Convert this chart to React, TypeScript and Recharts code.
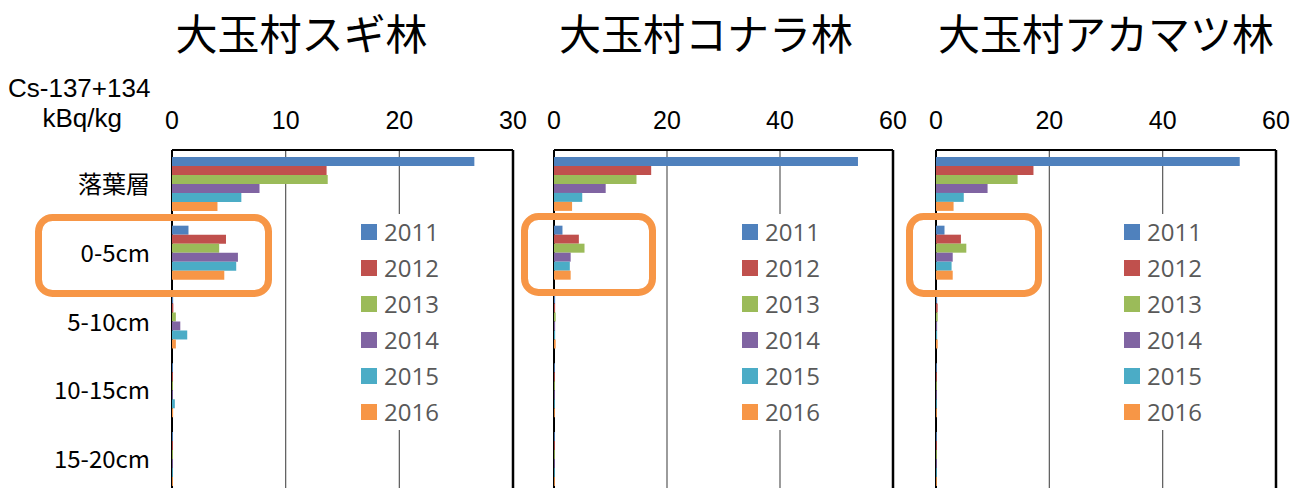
import React from 'react';
import { BarChart, Bar, XAxis, YAxis, CartesianGrid, ReferenceLine, Legend } from 'recharts';

const categories = ['落葉層', '0-5cm', '5-10cm', '10-15cm', '15-20cm'];
const years = ['2011', '2012', '2013', '2014', '2015', '2016'];
const yearColors = ['#4F81BD', '#C0504D', '#9BBB59', '#8064A2', '#4BACC6', '#F79646'];

// 大玉村スギ林
const sugi2011 = [26.6, 1.45, 0.1, 0.08, 0.08];
const sugi2012 = [13.6, 4.75, 0.12, 0.08, 0.08];
const sugi2013 = [13.7, 4.15, 0.34, 0.08, 0.08];
const sugi2014 = [7.7, 5.8, 0.73, 0.08, 0.08];
const sugi2015 = [6.1, 5.65, 1.34, 0.25, 0.08];
const sugi2016 = [4.0, 4.6, 0.34, 0.1, 0.08];

// 大玉村コナラ林
const konara2011 = [53.8, 1.5, 0.2, 0.15, 0.15];
const konara2012 = [17.2, 4.4, 0.2, 0.15, 0.15];
const konara2013 = [14.6, 5.4, 0.3, 0.15, 0.15];
const konara2014 = [9.15, 2.95, 0.2, 0.15, 0.15];
const konara2015 = [5.0, 2.8, 0.2, 0.15, 0.15];
const konara2016 = [3.2, 2.95, 0.3, 0.15, 0.15];

// 大玉村アカマツ林
const akamatsu2011 = [53.6, 1.5, 0.2, 0.15, 0.15];
const akamatsu2012 = [17.2, 4.4, 0.3, 0.15, 0.15];
const akamatsu2013 = [14.4, 5.35, 0.3, 0.15, 0.15];
const akamatsu2014 = [9.1, 2.95, 0.2, 0.15, 0.15];
const akamatsu2015 = [4.9, 2.75, 0.2, 0.15, 0.15];
const akamatsu2016 = [3.1, 2.95, 0.3, 0.15, 0.15];

const sugiTicks = [0, 10, 20, 30];
const konaraTicks = [0, 20, 40, 60];
const akamatsuTicks = [0, 20, 40, 60];

const titles = ['大玉村スギ林', '大玉村コナラ林', '大玉村アカマツ林'];

function buildData(series: number[][]) {
  return categories.map((layer, i) => {
    const row: Record<string, any> = { layer };
    years.forEach((y, k) => {
      row['y' + y] = series[k][i];
    });
    return row;
  });
}

const panels = [
  {
    data: buildData([sugi2011, sugi2012, sugi2013, sugi2014, sugi2015, sugi2016]),
    ticks: sugiTicks,
    left: 0, width: 540, ml: 0, mr: 27, showCats: true, legendLeft: 353,
  },
  {
    data: buildData([konara2011, konara2012, konara2013, konara2014, konara2015, konara2016]),
    ticks: konaraTicks,
    left: 540, width: 380, ml: 14, mr: 27, showCats: false, legendLeft: 194,
  },
  {
    data: buildData([akamatsu2011, akamatsu2012, akamatsu2013, akamatsu2014, akamatsu2015, akamatsu2016]),
    ticks: akamatsuTicks,
    left: 920, width: 385, ml: 16, mr: 29, showCats: false, legendLeft: 196,
  },
];

const LegendBox = (props: any) => {
  const payload = props.payload || [];
  return (
    <div style={{ background: '#fff', paddingLeft: 8, width: 92 }}>
      {payload.map((e: any) => (
        <div key={e.value} style={{ height: 36, display: 'flex', alignItems: 'center' }}>
          <span style={{ display: 'inline-block', width: 16, height: 16, background: e.color, marginRight: 7 }} />
          <span style={{ fontFamily: 'Open Sans', fontSize: 24, color: '#595959', lineHeight: '36px' }}>{e.value}</span>
        </div>
      ))}
    </div>
  );
};

// Grid line renderer: the first vertical line (value 0) is the black category axis, drawn beneath the bars.
const gridLine = (props: any) => {
  const { x1, y1, x2, y2, index } = props;
  const isAxis = index === 0;
  return (
    <line
      key={props.key ?? `v-${index}`}
      x1={x1}
      y1={y1}
      x2={x2}
      y2={y2}
      stroke={isAxis ? '#000' : '#595959'}
      strokeWidth={isAxis ? 2 : 1.2}
    />
  );
};

function Panel({ cfg }: { cfg: any }) {
  const max = cfg.ticks[cfg.ticks.length - 1];
  return (
    <div style={{ position: 'absolute', left: cfg.left, top: 0 }}>
      <BarChart
        width={cfg.width}
        height={500}
        data={cfg.data}
        layout="vertical"
        margin={{ top: 110, right: cfg.mr, bottom: 6, left: cfg.ml }}
        barCategoryGap="10%"
        barGap={0}
      >
        <CartesianGrid horizontal={false} vertical={gridLine} />
        <XAxis
          type="number"
          orientation="top"
          domain={[0, max]}
          ticks={cfg.ticks}
          interval={0}
          height={40}
          axisLine={{ stroke: '#000', strokeWidth: 2 }}
          tickLine={false}
          tickSize={0}
          tickMargin={21}
          tick={{ fontSize: 25, fill: '#000', fontFamily: 'Liberation Sans' }}
        />
        <YAxis
          type="category"
          dataKey="layer"
          width={cfg.showCats ? 172 : 0}
          axisLine={false}
          tickLine={false}
          tickSize={0}
          tickMargin={22}
          interval={0}
          tick={cfg.showCats ? { fontSize: 24, fill: '#000', fontFamily: 'Noto Sans CJK JP' } : false}
        />
        <ReferenceLine x={max} stroke="#000" strokeWidth={2.5} ifOverflow="visible" />
        {years.map((y, k) => (
          <Bar key={y} dataKey={'y' + y} name={y} fill={yearColors[k]} isAnimationActive={false} />
        ))}
        <Legend
          layout="vertical"
          align="center"
          verticalAlign="middle"
          content={<LegendBox />}
          wrapperStyle={{ position: 'absolute', left: cfg.legendLeft, top: 214, width: 100 }}
        />
      </BarChart>
    </div>
  );
}

const titleCenters = [301.5, 706, 1106];
const highlightBoxes = [
  { x: 38.5, y: 217.5, w: 230, h: 76 },
  { x: 524.5, y: 216.5, w: 128, h: 76 },
  { x: 909.5, y: 216.5, w: 129, h: 77 },
];

export default function App() {
  return (
    <div style={{ position: 'absolute', left: 0, top: 0, width: 1305, height: 488, overflow: 'hidden', background: '#fff' }}>
      {panels.map((p, i) => (
        <Panel key={i} cfg={p} />
      ))}
      <svg width={1305} height={488} style={{ position: 'absolute', left: 0, top: 0, pointerEvents: 'none' }}>
        {titles.map((t, i) => (
          <text key={t} x={titleCenters[i]} y={50} textAnchor="middle" fontFamily="Noto Sans CJK JP" fontWeight={400} fontSize={42} fill="#000">
            {t}
          </text>
        ))}
        <text x={8} y={97} fontFamily="Liberation Sans" fontSize={26} fill="#000">Cs-137+134</text>
        <text x={122} y={127} textAnchor="end" fontFamily="Liberation Sans" fontSize={26} fill="#000">kBq/kg</text>
        {highlightBoxes.map((b, i) => (
          <rect key={i} x={b.x} y={b.y} width={b.w} height={b.h} rx={14} ry={14} fill="none" stroke="#F79646" strokeWidth={7} />
        ))}
      </svg>
    </div>
  );
}
